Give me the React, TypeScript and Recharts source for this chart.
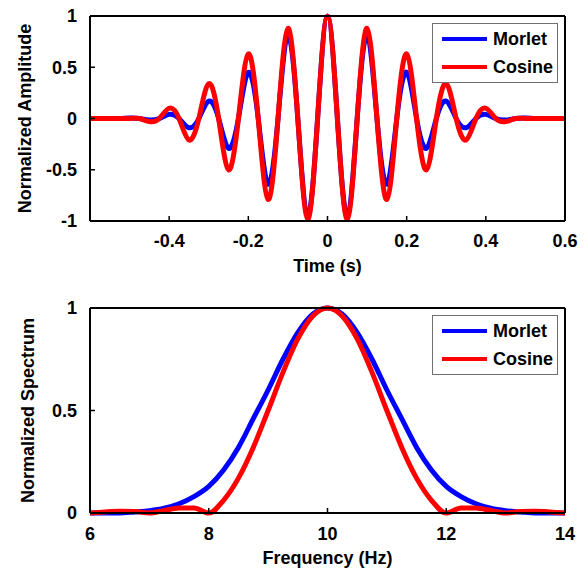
import React from 'react';
import { LineChart, Line, XAxis, YAxis, Legend, Label } from 'recharts';

// ---------- Top panel: time domain ----------
const timeS = [
  -0.6, -0.575, -0.55, -0.525, -0.5, -0.475, -0.45, -0.425, -0.4, -0.375, -0.35, -0.325,
  -0.3, -0.275, -0.25, -0.225, -0.2, -0.175, -0.15, -0.125, -0.1, -0.075, -0.05, -0.025,
  0,
  0.025, 0.05, 0.075, 0.1, 0.125, 0.15, 0.175, 0.2, 0.225, 0.25, 0.275, 0.3, 0.325,
  0.35, 0.375, 0.4, 0.425, 0.45, 0.475, 0.5, 0.525, 0.55, 0.575, 0.6,
];
const morletAmp = [
  0, 0, 0, 0, 0.005, 0, -0.015, 0, 0.04, 0, -0.09, 0,
  0.17, 0, -0.29, 0, 0.45, 0, -0.64, 0, 0.81, 0, -0.95, 0,
  1,
  0, -0.95, 0, 0.81, 0, -0.64, 0, 0.45, 0, -0.29, 0, 0.17, 0,
  -0.09, 0, 0.04, 0, -0.015, 0, 0.005, 0, 0, 0, 0,
];
const cosineAmp = [
  0, 0, 0, 0, 0, 0, -0.03, 0, 0.1, 0, -0.21, 0,
  0.34, 0, -0.5, 0, 0.63, 0, -0.79, 0, 0.88, 0, -0.98, 0,
  1,
  0, -0.98, 0, 0.88, 0, -0.79, 0, 0.63, 0, -0.5, 0, 0.34, 0,
  -0.21, 0, 0.1, 0, -0.03, 0, 0, 0, 0, 0, 0,
];
const timeTicks = [-0.4, -0.2, 0, 0.2, 0.4, 0.6];
const ampTicks = [-1, -0.5, 0, 0.5, 1];

// ---------- Bottom panel: spectrum ----------
const freqHz = [
  6, 6.25, 6.5, 6.75, 7, 7.25, 7.5, 7.75, 8, 8.25, 8.5, 8.75, 9, 9.25, 9.5, 9.75,
  10,
  10.25, 10.5, 10.75, 11, 11.25, 11.5, 11.75, 12, 12.25, 12.5, 12.75, 13, 13.25, 13.5, 13.75, 14,
];
const morletSpec = [
  0, 0, 0, 0.005, 0.011, 0.023, 0.045, 0.08, 0.13, 0.21, 0.32, 0.46, 0.6, 0.75, 0.88, 0.97,
  1,
  0.97, 0.88, 0.75, 0.6, 0.46, 0.32, 0.21, 0.13, 0.08, 0.045, 0.023, 0.011, 0.005, 0, 0, 0,
];
const cosineSpec = [
  0, 0.005, 0.008, 0.007, 0, 0.012, 0.024, 0.025, 0, 0.062, 0.17, 0.32, 0.5, 0.686, 0.849, 0.96,
  1,
  0.96, 0.849, 0.686, 0.5, 0.32, 0.17, 0.062, 0, 0.025, 0.024, 0.012, 0, 0.007, 0.008, 0.005, 0,
];
const freqTicks = [6, 8, 10, 12, 14];
const specTicks = [0, 0.5, 1];

const seriesNames = ['Morlet', 'Cosine'];
const seriesColors = ['#0000ff', '#ff0000'];

const FONT = '"Liberation Sans", Arial, Helvetica, sans-serif';
const axisLineStyle = { stroke: '#000', strokeWidth: 2 };
const tickLineStyle = { stroke: '#000', strokeWidth: 1.5 };
const tickFont = { fill: '#000', fontSize: 18, fontWeight: 700, fontFamily: FONT };
const LINE_W = 5;

function LegendBox() {
  return (
    <div
      style={{
        width: 126,
        height: 60,
        boxSizing: 'border-box',
        border: '1px solid #6f6f6f',
        background: '#fff',
        paddingTop: 1,
        fontFamily: FONT,
      }}
    >
      {seriesNames.map((name, i) => (
        <div key={name} style={{ display: 'flex', alignItems: 'center', height: 28 }}>
          <div style={{ marginLeft: 9, width: 45, height: 4, background: seriesColors[i] }} />
          <span
            style={{ marginLeft: 6, fontSize: 18, fontWeight: 700, lineHeight: '18px', color: '#000' }}
          >
            {name}
          </span>
        </div>
      ))}
    </div>
  );
}

function TimePanel() {
  const data = timeS.map((t, i) => ({ t, morlet: morletAmp[i], cosine: cosineAmp[i] }));
  return (
    <LineChart width={588} height={280} data={data} margin={{ top: 15, right: 22, bottom: 0, left: 0 }}>
      <XAxis
        dataKey="t"
        type="number"
        domain={[-0.6, 0.6]}
        ticks={timeTicks}
        interval={0}
        height={59}
        tickSize={-5}
        tickMargin={18}
        axisLine={axisLineStyle}
        tickLine={tickLineStyle}
        tick={tickFont}
        allowDataOverflow
      >
        <Label value="Time (s)" position="insideBottom" offset={8} fill="#000" fontSize={18} fontWeight={700} />
      </XAxis>
      <XAxis
        xAxisId="top"
        orientation="top"
        dataKey="t"
        type="number"
        domain={[-0.6, 0.6]}
        ticks={timeTicks}
        interval={0}
        height={1}
        tickSize={-5}
        tick={false}
        axisLine={axisLineStyle}
        tickLine={tickLineStyle}
        allowDataOverflow
      />
      <YAxis
        type="number"
        domain={[-1, 1]}
        ticks={ampTicks}
        interval={0}
        width={90}
        tickSize={-5}
        tickMargin={18}
        axisLine={axisLineStyle}
        tickLine={tickLineStyle}
        tick={tickFont}
      >
        <Label
          value="Normalized Amplitude"
          angle={-90}
          position="insideLeft"
          offset={25}
          fill="#000"
          fontSize={18}
          fontWeight={700}
          style={{ textAnchor: 'middle' }}
        />
      </YAxis>
      <YAxis
        yAxisId="right"
        orientation="right"
        type="number"
        domain={[-1, 1]}
        ticks={ampTicks}
        interval={0}
        width={1}
        tickSize={-5}
        tick={false}
        axisLine={axisLineStyle}
        tickLine={tickLineStyle}
      />
      <Line dataKey="morlet" name={seriesNames[0]} stroke={seriesColors[0]} strokeWidth={LINE_W} dot={false} type="natural" isAnimationActive={false} />
      <Line dataKey="cosine" name={seriesNames[1]} stroke={seriesColors[1]} strokeWidth={LINE_W} dot={false} type="natural" isAnimationActive={false} />
      <Legend
        layout="vertical"
        align="center"
        verticalAlign="middle"
        content={() => <LegendBox />}
        wrapperStyle={{ left: 432, top: 23, width: 126, height: 60 }}
      />
    </LineChart>
  );
}

function SpectrumPanel() {
  const data = freqHz.map((f, i) => ({ f, morlet: morletSpec[i], cosine: cosineSpec[i] }));
  return (
    <LineChart width={588} height={288} data={data} margin={{ top: 27, right: 22, bottom: 0, left: 0 }}>
      <XAxis
        dataKey="f"
        type="number"
        domain={[6, 14]}
        ticks={freqTicks}
        interval={0}
        height={55}
        tickSize={-5}
        tickMargin={19}
        axisLine={axisLineStyle}
        tickLine={tickLineStyle}
        tick={tickFont}
        allowDataOverflow
      >
        <Label value="Frequency (Hz)" position="insideBottom" offset={4} fill="#000" fontSize={18} fontWeight={700} />
      </XAxis>
      <XAxis
        xAxisId="top"
        orientation="top"
        dataKey="f"
        type="number"
        domain={[6, 14]}
        ticks={freqTicks}
        interval={0}
        height={1}
        tickSize={-5}
        tick={false}
        axisLine={axisLineStyle}
        tickLine={tickLineStyle}
        allowDataOverflow
      />
      <YAxis
        type="number"
        domain={[0, 1]}
        ticks={specTicks}
        interval={0}
        width={90}
        tickSize={-5}
        tickMargin={18}
        axisLine={axisLineStyle}
        tickLine={tickLineStyle}
        tick={tickFont}
      >
        <Label
          value="Normalized Spectrum"
          angle={-90}
          position="insideLeft"
          offset={28}
          fill="#000"
          fontSize={18}
          fontWeight={700}
          style={{ textAnchor: 'middle' }}
        />
      </YAxis>
      <YAxis
        yAxisId="right"
        orientation="right"
        type="number"
        domain={[0, 1]}
        ticks={specTicks}
        interval={0}
        width={1}
        tickSize={-5}
        tick={false}
        axisLine={axisLineStyle}
        tickLine={tickLineStyle}
      />
      <Line dataKey="morlet" name={seriesNames[0]} stroke={seriesColors[0]} strokeWidth={LINE_W} dot={false} type="monotone" isAnimationActive={false} />
      <Line dataKey="cosine" name={seriesNames[1]} stroke={seriesColors[1]} strokeWidth={LINE_W} dot={false} type="monotone" isAnimationActive={false} />
      <Legend
        layout="vertical"
        align="center"
        verticalAlign="middle"
        content={() => <LegendBox />}
        wrapperStyle={{ left: 432, top: 35, width: 126, height: 60 }}
      />
    </LineChart>
  );
}

export default function App() {
  return (
    <div
      style={{
        position: 'absolute',
        left: 0,
        top: 0,
        width: 588,
        height: 568,
        background: '#fff',
        fontFamily: FONT,
        fontWeight: 700,
      }}
    >
      <TimePanel />
      <SpectrumPanel />
    </div>
  );
}
